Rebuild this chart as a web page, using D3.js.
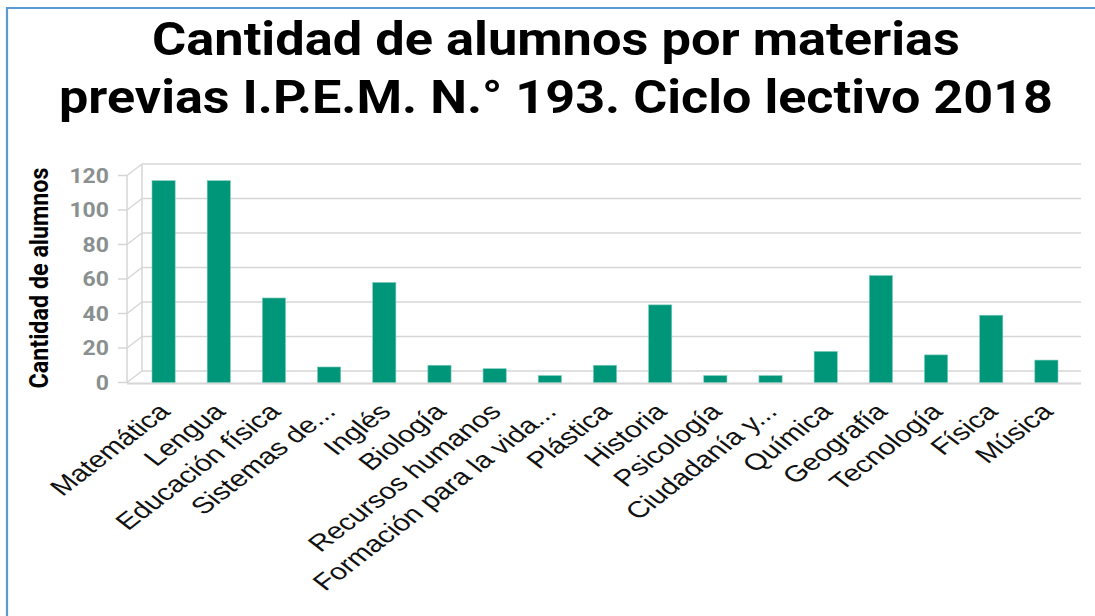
<!DOCTYPE html>
<html>
<head>
<meta charset="utf-8">
<script src="https://cdn.jsdelivr.net/npm/d3@7"></script>
<style>
  body { margin: 0; background: #fff; }
  svg { display: block; }
</style>
</head>
<body>
<div id="chart"></div>
<script>
// materias y cantidad de alumnos
var materias = ["Matemática", "Lengua", "Educación física", "Sistemas de...", "Inglés",
  "Biología", "Recursos humanos", "Formación para la vida...", "Plástica", "Historia",
  "Psicología", "Ciudadanía y...", "Química", "Geografía", "Tecnología", "Física", "Música"];
var alumnos = [117, 117, 49, 9, 58, 10, 8, 4, 10, 45, 4, 4, 18, 62, 16, 39, 13];
var ticks = [0, 20, 40, 60, 80, 100, 120];
var titulo = ["Cantidad de alumnos por materias", "previas I.P.E.M. N.° 193. Ciclo lectivo 2018"];
var tituloLargo = [808, 994];
var tituloEje = "Cantidad de alumnos";

var w = 1095, h = 616;
var barColor = "#00967a";
var gridColor = "#d6d6d6";

// profundidad del efecto 3d
var dx = 15, dy = -11.5;
// la imagen original esta estirada a lo ancho
var stretch = 1.15;

var svg = d3.select("#chart")
  .append("svg")
  .attr("width", w)
  .attr("height", h);

// borde azul
svg.append("path")
  .attr("d", "M7,616 V8 H1095")
  .attr("fill", "none")
  .attr("stroke", "#5b9bd5")
  .attr("stroke-width", 2.2);

// titulo
svg.selectAll(".titulo")
  .data(titulo)
  .enter()
  .append("text")
  .attr("class", "titulo")
  .attr("x", 556)
  .attr("y", function(d, i) { return 55 + i * 58; })
  .attr("text-anchor", "middle")
  .attr("font-family", "Roboto, sans-serif")
  .attr("font-weight", "bold")
  .attr("font-size", "46px")
  .attr("textLength", function(d, i) { return tituloLargo[i]; })
  .attr("lengthAdjust", "spacingAndGlyphs")
  .attr("fill", "#000")
  .text(function(d) { return d; });

var x = d3.scaleBand()
  .domain(materias)
  .range([136, 1074])
  .paddingInner(0.58)
  .paddingOuter(0.29);

var y = d3.scaleLinear()
  .domain([0, 120])
  .range([382.5, 175.5]);

var x0 = 127, x1 = 1081;

// pared del fondo
svg.append("line")
  .attr("x1", x0 + dx).attr("x2", x0 + dx)
  .attr("y1", y(0) + dy).attr("y2", y(120) + dy)
  .attr("stroke", gridColor).attr("stroke-width", 1.5);

svg.append("line")
  .attr("x1", x0).attr("x2", x0)
  .attr("y1", y(0)).attr("y2", y(120))
  .attr("stroke", gridColor).attr("stroke-width", 1.5);

svg.selectAll(".grid")
  .data(ticks)
  .enter()
  .append("line")
  .attr("class", "grid")
  .attr("x1", x0 + dx)
  .attr("x2", x1)
  .attr("y1", function(d) { return y(d) + dy; })
  .attr("y2", function(d) { return y(d) + dy; })
  .attr("stroke", gridColor)
  .attr("stroke-width", 1.6);

svg.selectAll(".diag")
  .data(ticks)
  .enter()
  .append("line")
  .attr("class", "diag")
  .attr("x1", x0)
  .attr("x2", x0 + dx)
  .attr("y1", function(d) { return y(d); })
  .attr("y2", function(d) { return y(d) + dy; })
  .attr("stroke", gridColor)
  .attr("stroke-width", 1.5);

// marcas del eje y
svg.selectAll(".tick")
  .data(ticks)
  .enter()
  .append("line")
  .attr("class", "tick")
  .attr("x1", 118)
  .attr("x2", x0)
  .attr("y1", function(d) { return y(d); })
  .attr("y2", function(d) { return y(d); })
  .attr("stroke", gridColor)
  .attr("stroke-width", 1.5);

// piso
svg.append("line")
  .attr("x1", x0).attr("x2", x1)
  .attr("y1", y(0) + 1).attr("y2", y(0) + 1)
  .attr("stroke", gridColor).attr("stroke-width", 2);

svg.selectAll(".ylabel")
  .data(ticks)
  .enter()
  .append("text")
  .attr("class", "ylabel")
  .attr("transform", function(d) {
    return "translate(109," + y(d) + ") scale(" + stretch + ",1)";
  })
  .attr("dy", "0.35em")
  .attr("text-anchor", "end")
  .attr("font-family", "Roboto, sans-serif")
  .attr("font-weight", "bold")
  .attr("font-size", "20px")
  .attr("fill", "#8a8f8f")
  .text(function(d) { return d; });

// barras
svg.selectAll(".bar")
  .data(alumnos)
  .enter()
  .append("rect")
  .attr("class", "bar")
  .attr("x", function(d, i) { return x(materias[i]); })
  .attr("y", function(d) { return y(d); })
  .attr("width", x.bandwidth())
  .attr("height", function(d) { return y(0) - y(d); })
  .attr("fill", barColor)
  .attr("stroke", "#7fcbbb")
  .attr("stroke-width", 0.6);

// etiquetas del eje x
svg.selectAll(".xlabel")
  .data(materias)
  .enter()
  .append("text")
  .attr("class", "xlabel")
  .attr("text-anchor", "end")
  .attr("transform", function(d) {
    return "translate(" + (x(d) + x.bandwidth() / 2 + 8) + "," + 413 + ") scale(1.3,1) rotate(-45)";
  })
  .attr("font-family", "'Liberation Sans', Arial, sans-serif")
  .attr("font-size", "23px")
  .attr("fill", "#111")
  .text(function(d) { return d; });

// titulo del eje y
svg.append("text")
  .attr("transform", "translate(48,278) rotate(-90)")
  .attr("text-anchor", "middle")
  .attr("font-family", "Roboto, sans-serif")
  .attr("font-weight", "bold")
  .attr("font-size", "25px")
  .attr("textLength", 221)
  .attr("lengthAdjust", "spacingAndGlyphs")
  .attr("fill", "#000")
  .text(tituloEje);
</script>
</body>
</html>
